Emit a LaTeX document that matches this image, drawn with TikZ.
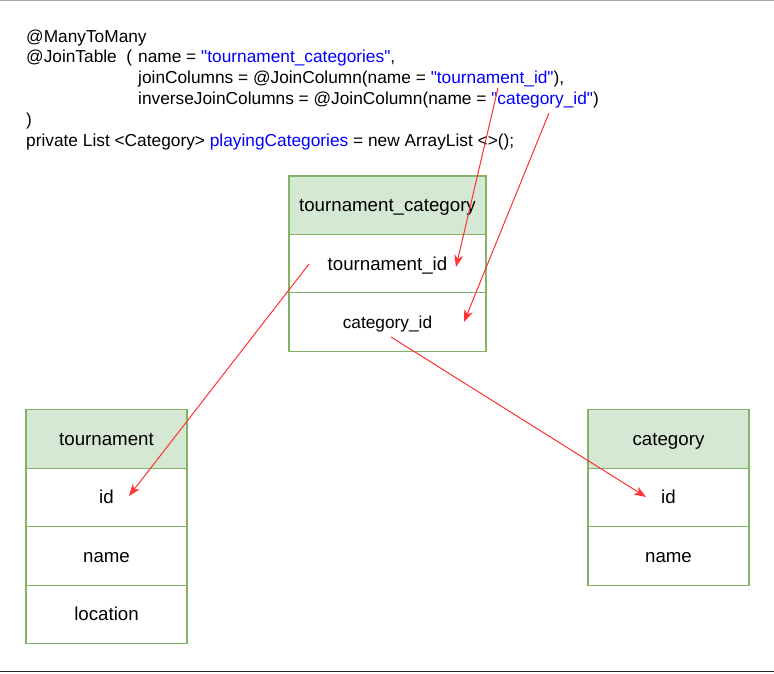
\documentclass[tikz,border=0pt]{standalone}
\usepackage{fontspec}
\setmainfont{Liberation Sans}[Ligatures=TeXOff]
\usetikzlibrary{arrows.meta}
\definecolor{hdrfill}{HTML}{D5E8D4}
\definecolor{hdrline}{HTML}{82B366}
\definecolor{link}{HTML}{FF3333}
\definecolor{strblue}{HTML}{0000FF}
\newcommand{\str}[1]{\textcolor{strblue}{"#1"}}
\newcommand{\fld}[1]{\textcolor{strblue}{#1}}

\begin{document}
\begin{tikzpicture}[
    x=1pt, y=-1pt,
    code/.style={anchor=base west, inner sep=0pt, font=\fontsize{17.3}{20.8}\selectfont},
    cell/.style={rectangle, draw=hdrline, line width=1.3pt, fill=white, minimum height=58.5pt,
        inner sep=0pt, text height=16.9pt, text depth=4pt, font=\fontsize{18.7}{22}\selectfont},
    hdr/.style={cell, fill=hdrfill},
    arrow/.style={-{Stealth[length=12pt,width=9pt,inset=3.5pt]}, draw=link, fill=link, line width=1pt}]

\useasboundingbox (0,0) rectangle (774,673);

% Frame lines
\draw[gray!70, line width=1pt] (0,0.5) -- (774,0.5);
\draw[black!85, line width=1.3pt] (0,671.5) -- (774,671.5);

% Annotation code
\node[code] (l1) at (26,42) {@ManyToMany};
\node[code] (l2) at (26,62.8) {\makebox[112pt][l]{@JoinTable\ \ (}name = \str{tournament\_categories},};
\node[code] (l3) at (138,83.6) {joinColumns = @JoinColumn(name = \str{tournament\_id}),};
\node[code] (l4) at (138,104.4) {inverseJoinColumns = @JoinColumn(name = \str{category\_id})};
\node[code] (l5) at (26,125.2) {)};
\node[code] (l6) at (26,146) {private List <Category> \fld{playingCategories} = new ArrayList <>();};

% Join table
\node[hdr, minimum width=197pt, minimum height=59pt] (tc) at (387.5,205.5) {tournament\_category};
\node[cell, minimum width=197pt] (tcTid) at (387.5,264) {tournament\_id};
\node[cell, minimum width=197pt, text height=15.7pt, text depth=3.7pt,
    font=\fontsize{17.3}{20.8}\selectfont] (tcCid) at (387.5,322) {category\_id};

% Tournament table
\node[hdr, minimum width=161pt] (t) at (106.5,439) {tournament};
\node[cell, minimum width=161pt] (tId) at (106.5,497.5) {id};
\node[cell, minimum width=161pt] (tName) at (106.5,556) {name};
\node[cell, minimum width=161pt] (tLoc) at (106.5,614.5) {location};

% Category table
\node[hdr, minimum width=161pt] (c) at (668.5,439) {category};
\node[cell, minimum width=161pt] (cId) at (668.5,497.5) {id};
\node[cell, minimum width=161pt] (cName) at (668.5,556) {name};

% Arrow ends
\coordinate (s1) at (498,88);
\coordinate (e1) at (456,267);
\coordinate (s2) at (549,113);
\coordinate (e2) at (464,322);
\coordinate (s3) at (309,264);
\coordinate (e3) at (129,496);
\coordinate (s4) at (391,337);
\coordinate (e4) at (646,497);

% Arrows
\draw[arrow] (s1) -- (e1);
\draw[arrow] (s2) -- (e2);
\draw[arrow] (s3) -- (e3);
\draw[arrow] (s4) -- (e4);

\end{tikzpicture}
\end{document}
